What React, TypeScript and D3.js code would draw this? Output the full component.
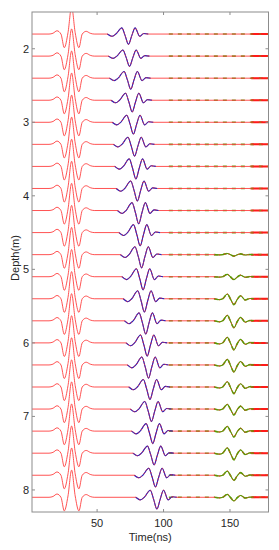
import React from 'react';
import * as d3 from 'd3';

// receiver depths (m), one trace each
const depths = [1.8, 2.1, 2.4, 2.7, 3.0, 3.3, 3.6, 3.9, 4.2, 4.5, 4.8, 5.1, 5.4, 5.7, 6.0, 6.3, 6.6, 6.9, 7.2, 7.5, 7.8, 8.1];

// direct wave: centre time (ns) and peak amplitude (in depth units)
const directTimes = [30.8, 30.8, 30.8, 30.8, 30.8, 30.8, 30.8, 30.8, 30.8, 30.8, 30.8, 30.8, 30.8, 30.8, 30.8, 30.8, 30.8, 30.8, 30.8, 30.8, 30.8, 30.8];
const directAmps = [0.37, 0.37, 0.37, 0.37, 0.37, 0.37, 0.37, 0.37, 0.37, 0.37, 0.37, 0.37, 0.37, 0.37, 0.37, 0.37, 0.37, 0.37, 0.37, 0.37, 0.37, 0.37];

// first reflection (blue)
const reflTimes = [73.6, 74.4, 75.3, 76.4, 77.3, 78.2, 79.2, 80.3, 81.3, 82.4, 83.5, 84.6, 85.6, 86.6, 87.7, 88.7, 89.8, 90.9, 91.9, 92.9, 93.9, 95.0];
const reflAmps = [0.14, 0.14, 0.15, 0.16, 0.16, 0.16, 0.17, 0.17, 0.18, 0.18, 0.18, 0.18, 0.18, 0.18, 0.18, 0.18, 0.17, 0.17, 0.17, 0.16, 0.16, 0.16];

// second reflection (green), only on the deeper traces
const deepTimes = [153, 153, 153, 153, 153, 153, 153, 153, 153, 153, 153, 153, 153, 153, 153, 153, 153, 153, 153, 153, 153, 153];
const deepAmps = [0, 0, 0, 0, 0, 0, 0, 0, 0, 0, 0.02, 0.04, 0.08, 0.095, 0.095, 0.095, 0.09, 0.08, 0.08, 0.09, 0.07, 0.05];

// wavelet shapes (offset in ns, normalised amplitude)
const directOffsets = [-17, -14, -11, -8, -5.5, -2.7, 0, 2.7, 5.5, 8, 11, 14, 17];
const directShape = [0, 0.03, 0.12, 0, -0.5, 0.05, 1, 0.05, -0.5, 0, 0.1, 0.03, 0];
const reflOffsets = [-16, -12.5, -9.5, -5, -2.5, 0, 2.5, 5, 8.5, 11.5, 15];
const reflShape = [0, -0.22, 0, 0.6, -0.15, -1, -0.15, 0.6, -0.22, 0.05, 0];
const deepOffsets = [-15, -11, -8.5, -5, -2.5, 0, 2.5, 5, 8.5, 12, 15];
const deepShape = [0, -0.15, 0, 0.8, -0.1, -1, -0.1, 0.5, -0.2, 0.05, 0];

const xTicks = [50, 100, 150];
const yTicks = [2, 3, 4, 5, 6, 7, 8];

const width = 279;
const height = 550;
const margin = { top: 12, right: 10.5, bottom: 38, left: 32 };
const tMin = 1;
const tMax = 179;

const eventPoints = (center, amp, offsets, shape) =>
  offsets.map((o, i) => [center + o, amp * shape[i]]);

const App = () => {
  const x = d3.scaleLinear().domain([tMin, tMax]).range([margin.left, width - margin.right]);
  const y = d3.scaleLinear().domain([1.5, 8.3]).range([margin.top, height - margin.bottom]);
  const font = "'Liberation Sans', Arial, sans-serif";
  const axisColor = '#8c8c8c';
  const textColor = '#262626';

  const traces = depths.map((depth, i) => {
    const line = d3.line().x(d => x(d[0])).y(d => y(depth - d[1])).curve(d3.curveMonotoneX);
    const direct = eventPoints(directTimes[i], directAmps[i], directOffsets, directShape);
    const refl = eventPoints(reflTimes[i], reflAmps[i], reflOffsets, reflShape);
    const deep = deepAmps[i] > 0 ? eventPoints(deepTimes[i], deepAmps[i], deepOffsets, deepShape) : [];
    const full = [[tMin, 0], ...direct, ...refl, ...deep, [tMax, 0]];
    const tail = [[104, 0], ...deep, [tMax, 0]];
    return {
      full: line(full),
      refl: line(refl),
      tail: line(tail),
      deep: deep.length ? line(deep) : null,
      noise: line([[166, 0], [tMax, 0]]),
    };
  });

  const x0 = margin.left, x1 = width - margin.right, y0 = margin.top, y1 = height - margin.bottom;

  return (
    <svg width={width} height={height} style={{ position: 'absolute', left: 0, top: 0, background: '#fff' }}>
      <defs>
        <clipPath id="plotClip">
          <rect x={x0} y={y0} width={x1 - x0} height={y1 - y0} />
        </clipPath>
      </defs>
      <g clipPath="url(#plotClip)" fill="none">
        {traces.map((tr, i) => (
          <g key={i}>
            <path d={tr.tail} stroke="#6aa620" strokeWidth={1.6} strokeDasharray="4,5" />
            <path d={tr.full} stroke="#ff4040" strokeWidth={1} strokeOpacity={0.9} />
            <path d={tr.noise} stroke="#ff1a1a" strokeWidth={2} />
            <path d={tr.noise} stroke="#7a9a10" strokeWidth={0.8} strokeDasharray="2,6" />
            {tr.deep && <path d={tr.deep} stroke="#4fa000" strokeWidth={1.1} />}
            {tr.deep && <path d={tr.deep} stroke="#ff3030" strokeWidth={0.8} strokeDasharray="1,4" />}
            <path d={tr.refl} stroke="#3324b8" strokeWidth={1.1} />
            <path d={tr.refl} stroke="#ff3030" strokeWidth={0.8} strokeDasharray="1,3" />
          </g>
        ))}
      </g>
      <rect x={x0} y={y0} width={x1 - x0} height={y1 - y0} fill="none" stroke={axisColor} strokeWidth={1} />
      {xTicks.map(t => (
        <g key={'x' + t}>
          <line x1={x(t)} x2={x(t)} y1={y1} y2={y1 - 3} stroke={axisColor} />
          <line x1={x(t)} x2={x(t)} y1={y0} y2={y0 + 3} stroke={axisColor} />
          <text x={x(t)} y={y1 + 15} textAnchor="middle" fontSize={11} fontFamily={font} fill={textColor}>{t}</text>
        </g>
      ))}
      {yTicks.map(d => (
        <g key={'y' + d}>
          <line x1={x0} x2={x0 + 3} y1={y(d)} y2={y(d)} stroke={axisColor} />
          <line x1={x1} x2={x1 - 3} y1={y(d)} y2={y(d)} stroke={axisColor} />
          <text x={29} y={y(d)} dy="0.35em" textAnchor="end" fontSize={11} fontFamily={font} fill={textColor}>{d}</text>
        </g>
      ))}
      <text x={(x0 + x1) / 2} y={541} textAnchor="middle" fontSize={11} fontFamily={font} fill={textColor}>Time(ns)</text>
      <text transform={`translate(18.5, ${(y0 + y1) / 2 - 4}) rotate(-90)`} textAnchor="middle" fontSize={11} fontFamily={font} fill={textColor}>Depth(m)</text>
    </svg>
  );
};

export default App;
